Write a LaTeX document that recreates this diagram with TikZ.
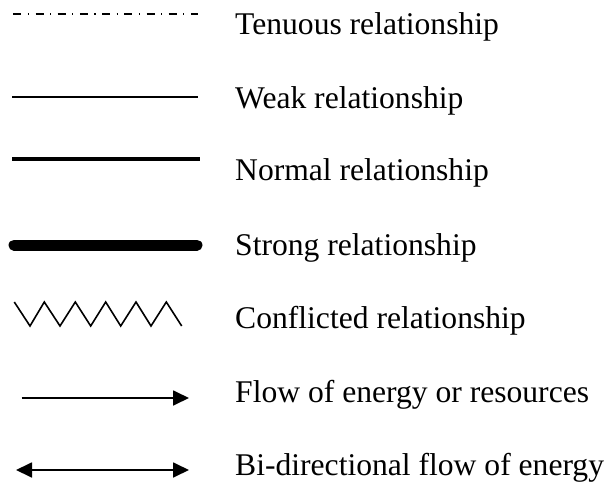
\documentclass[tikz,border=0pt]{standalone}
\usepackage{fontspec}
\setmainfont{Liberation Serif}
\usetikzlibrary{arrows.meta}
\begin{document}
\begin{tikzpicture}[x=1pt,y=-1pt,
  lbl/.style={anchor=base west,inner sep=0pt,font=\fontsize{31.6}{38}\selectfont},
  tenuous/.style={line width=2.5pt,dash pattern=on 8pt off 6.5pt on 1.2pt off 6.5pt},
  weak/.style={line width=1.6pt},
  normal/.style={line width=4.7pt},
  strong/.style={line width=11pt,line cap=round},
  zig/.style={line width=1.6pt},
  flow/.style={line width=1.8pt,-{Triangle[length=16pt,width=15pt]}},
  biflow/.style={line width=1.8pt,{Triangle[length=16pt,width=15pt]}-{Triangle[length=16pt,width=15pt]}}]
\useasboundingbox (0,0) rectangle (611,487);
% coordinates of line ends
\coordinate (t1) at (13.3,14); \coordinate (t2) at (198,14);
\coordinate (w1) at (12,97); \coordinate (w2) at (198,97);
\coordinate (n1) at (12,159); \coordinate (n2) at (200,159);
\coordinate (s1) at (14,245); \coordinate (s2) at (197,245);
\coordinate (f1) at (21.7,398); \coordinate (f2) at (189,398);
\coordinate (b1) at (16,470); \coordinate (b2) at (189,470);
\draw[tenuous] (t1) -- (t2);
\draw[weak] (w1) -- (w2);
\draw[normal] (n1) -- (n2);
\draw[strong] (s1) -- (s2);
\draw[zig,line join=miter] (14.3,302) -- (30,326) -- (44.3,302) -- (60,326) -- (75.3,302) -- (90.7,326) -- (105.7,302) -- (120.7,326) -- (136,302) -- (151,326) -- (166.3,302) -- (181.7,326);
\draw[flow] (f1) -- (f2);
\draw[biflow] (b1) -- (b2);
% labels
\node[lbl] (lt) at (235,34.3) {Tenuous relationship};
\node[lbl] (lw) at (235,108.5) {Weak relationship};
\node[lbl] (ln) at (235,180.7) {Normal relationship};
\node[lbl] (ls) at (235,255.7) {Strong relationship};
\node[lbl] (lc) at (235,328.3) {Conflicted relationship};
\node[lbl] (lf) at (235,402.7) {Flow of energy or resources};
\node[lbl] (lb) at (235,475) {Bi-directional flow of energy};
\end{tikzpicture}
\end{document}
